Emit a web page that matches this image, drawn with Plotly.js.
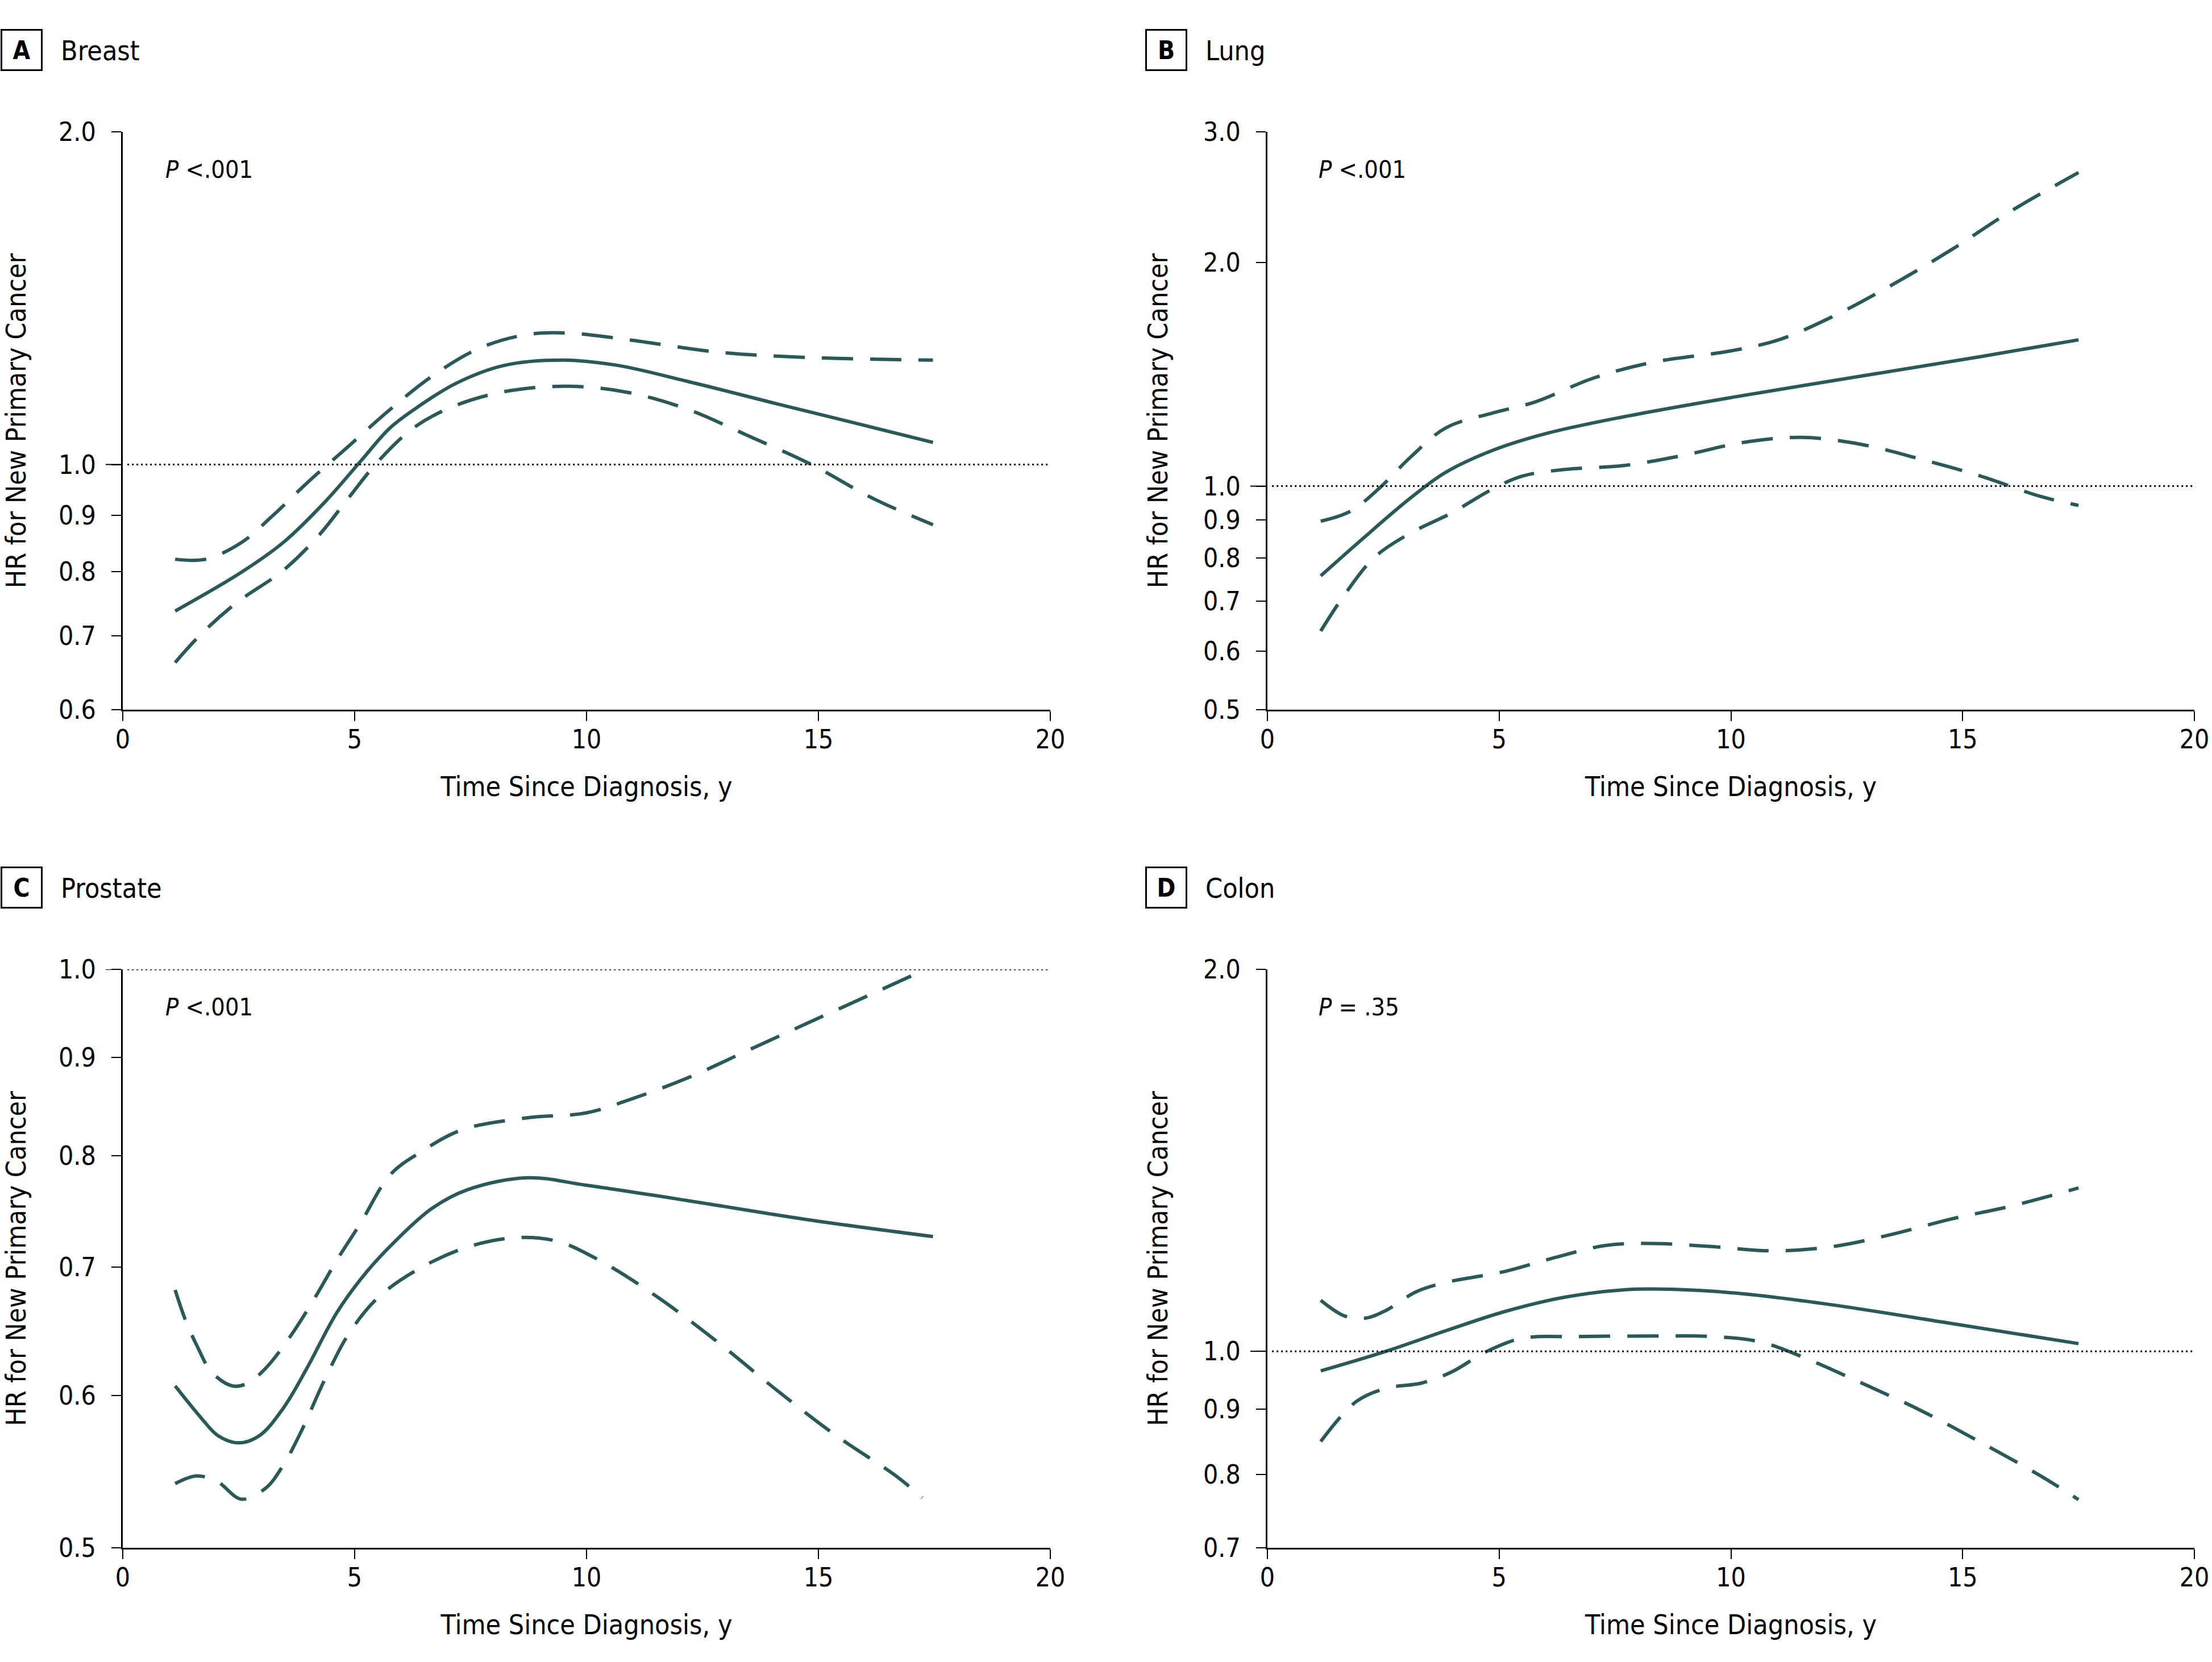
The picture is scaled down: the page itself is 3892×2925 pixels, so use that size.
<!DOCTYPE html>
<html><head><meta charset="utf-8">
<script src="https://cdn.plot.ly/plotly-3.0.1.min.js"></script>
<style>html,body{margin:0;padding:0;background:#fff}</style>
</head><body><div id="chart" style="width:3892px;height:2925px"></div>
<script>
// ---------- data ----------
const panelLetters = ['A', 'B', 'C', 'D'];
const panelTitles = ['Breast', 'Lung', 'Prostate', 'Colon'];
const pTexts = ['<i>P</i> &lt;.001', '<i>P</i> &lt;.001', '<i>P</i> &lt;.001', '<i>P</i> = .35'];
const xTickVals = [0, 5, 10, 15, 20];

const breastYTicks = [0.6, 0.7, 0.8, 0.9, 1.0, 2.0];
const lungYTicks = [0.5, 0.6, 0.7, 0.8, 0.9, 1.0, 2.0, 3.0];
const prostateYTicks = [0.5, 0.6, 0.7, 0.8, 0.9, 1.0];
const colonYTicks = [0.7, 0.8, 0.9, 1.0, 2.0];

// Breast
const breastHRx = [1.13,2.56,3.46,4.36,5.13,5.77,6.41,7.18,8.21,9.49,10.64,12.18,14.1,16.03,17.47];
const breastHRy = [0.737,0.799,0.850,0.925,1.007,1.080,1.131,1.184,1.229,1.243,1.230,1.189,1.135,1.084,1.047];
const breastUpx = [1.13,1.79,2.56,3.21,3.97,4.87,5.77,6.67,7.69,8.72,9.62,10.9,12.82,14.74,17.47];
const breastUpy = [0.821,0.821,0.850,0.897,0.962,1.039,1.122,1.202,1.274,1.311,1.315,1.297,1.264,1.250,1.243];
const breastLox = [1.13,1.67,2.44,3.46,4.23,4.87,5.51,6.28,7.18,8.33,9.62,10.9,12.18,13.46,14.87,16.15,17.47];
const breastLoy = [0.662,0.701,0.749,0.802,0.863,0.933,1.007,1.080,1.131,1.166,1.177,1.162,1.122,1.063,0.999,0.933,0.882];

// Lung
const lungHRx = [1.15,2.05,3.08,3.85,4.87,6.03,7.69,10.0,12.82,15.38,17.5];
const lungHRy = [0.757,0.849,0.963,1.044,1.118,1.178,1.240,1.316,1.407,1.494,1.574];
const lungUpx = [1.15,1.79,2.44,3.08,3.85,4.87,5.77,7.05,8.33,10.0,11.03,12.18,13.46,14.74,16.03,17.5];
const lungUpy = [0.897,0.925,0.997,1.093,1.198,1.255,1.298,1.399,1.469,1.521,1.574,1.690,1.864,2.078,2.344,2.644];
const lungLox = [1.15,1.67,2.31,3.08,3.97,4.87,5.51,6.41,7.69,8.97,10.26,11.54,12.82,14.1,15.38,16.67,17.5];
const lungLoy = [0.638,0.715,0.802,0.864,0.920,0.992,1.032,1.053,1.066,1.100,1.145,1.163,1.138,1.087,1.032,0.969,0.942];

// Prostate
const prostateHRx = [1.13,1.67,2.05,2.5,2.95,3.46,3.97,4.62,5.26,5.9,6.67,7.44,8.72,10.0,12.18,14.74,17.47];
const prostateHRy = [0.607,0.585,0.572,0.567,0.572,0.591,0.620,0.663,0.696,0.723,0.751,0.768,0.779,0.772,0.758,0.741,0.726];
const prostateUpx = [1.13,1.35,1.6,1.92,2.37,2.69,3.08,3.59,4.1,4.62,5.13,5.77,6.41,7.31,8.72,10.0,10.9,12.18,13.46,14.74,16.03,17.31];
const prostateUpy = [0.681,0.657,0.637,0.617,0.607,0.609,0.620,0.643,0.672,0.706,0.738,0.782,0.803,0.825,0.837,0.842,0.855,0.878,0.907,0.937,0.968,1.0];
const prostateLox = [1.13,1.6,2.05,2.56,3.08,3.46,3.85,4.36,4.87,5.51,6.41,7.44,8.46,9.36,10.26,11.54,12.82,14.1,15.38,16.67,17.24];
const prostateLoy = [0.540,0.545,0.541,0.530,0.537,0.552,0.575,0.612,0.646,0.675,0.699,0.717,0.725,0.722,0.706,0.675,0.640,0.604,0.572,0.545,0.531];

// Colon
const colonHRx = [1.15,2.56,3.85,5.13,6.41,7.69,8.72,10.26,12.18,14.74,17.5];
const colonHRy = [0.965,1.000,1.038,1.075,1.103,1.118,1.119,1.110,1.088,1.052,1.014];
const colonUpx = [1.15,1.67,2.12,2.56,3.21,3.85,5.13,6.15,7.31,8.33,9.62,10.9,12.18,13.46,14.74,16.03,17.5];
const colonUpy = [1.097,1.066,1.062,1.077,1.114,1.133,1.156,1.184,1.212,1.216,1.209,1.200,1.209,1.236,1.271,1.301,1.345];
const colonLox = [1.15,1.92,2.56,3.33,3.97,4.74,5.51,6.67,8.33,9.62,10.64,11.54,12.82,14.1,15.38,16.67,17.5];
const colonLoy = [0.849,0.913,0.935,0.944,0.963,1.000,1.024,1.027,1.028,1.027,1.017,0.990,0.944,0.898,0.848,0.798,0.764];

// ---------- layout / styling ----------
const W = 3892, H = 2925;
const FONT = '"DejaVu Sans Condensed","Liberation Sans Narrow",sans-serif';
const LINE = '#2a5a57';
const px = v => v / W;
const py = v => 1 - v / H;

const xDomA = [px(216), px(1848)], xDomB = [px(2230), px(3861)];
const yDomTop = [py(1249), py(232)], yDomBot = [py(2724), py(1706)];

const panels = [
  {hr:[breastHRx,breastHRy], up:[breastUpx,breastUpy], lo:[breastLox,breastLoy], ticks:breastYTicks, range:[0.6,2.0], xd:xDomA, yd:yDomTop},
  {hr:[lungHRx,lungHRy], up:[lungUpx,lungUpy], lo:[lungLox,lungLoy], ticks:lungYTicks, range:[0.5,3.0], xd:xDomB, yd:yDomTop},
  {hr:[prostateHRx,prostateHRy], up:[prostateUpx,prostateUpy], lo:[prostateLox,prostateLoy], ticks:prostateYTicks, range:[0.5,1.0], xd:xDomA, yd:yDomBot},
  {hr:[colonHRx,colonHRy], up:[colonUpx,colonUpy], lo:[colonLox,colonLoy], ticks:colonYTicks, range:[0.7,2.0], xd:xDomB, yd:yDomBot}
];

const traces = [];
const layout = {
  width: W, height: H,
  margin: {l:0, r:0, t:0, b:0},
  paper_bgcolor: '#fff', plot_bgcolor: '#fff',
  showlegend: false,
  font: {family: FONT, color: '#000', size: 46},
  shapes: [], annotations: []
};

panels.forEach((p, i) => {
  const n = i === 0 ? '' : String(i + 1);
  const xa = 'x' + n, ya = 'y' + n;
  const common = {xaxis: xa, yaxis: ya, mode: 'lines', hoverinfo: 'skip'};
  traces.push(Object.assign({x: p.hr[0], y: p.hr[1], line: {color: LINE, width: 6, shape: 'spline', smoothing: 1}}, common));
  traces.push(Object.assign({x: p.lo[0], y: p.lo[1], line: {color: LINE, width: 6, shape: 'spline', smoothing: 1, dash: '55px,30px'}}, common));
  traces.push(Object.assign({x: p.up[0], y: p.up[1], line: {color: LINE, width: 6, shape: 'spline', smoothing: 1, dash: '55px,30px'}}, common));

  layout['xaxis' + n] = {
    domain: p.xd, anchor: ya, range: [0, 20], tickvals: xTickVals, ticktext: xTickVals.map(String),
    showline: true, linecolor: '#000', linewidth: 3, ticks: 'outside', ticklen: 17, tickwidth: 2, tickcolor: '#000',
    showgrid: false, zeroline: false, automargin: false, fixedrange: true,
    tickfont: {size: 46, family: FONT}, ticklabelstandoff: -7,
    title: {text: 'Time Since Diagnosis, y', font: {size: 48, family: FONT}, standoff: 41}
  };
  layout['yaxis' + n] = {
    domain: p.yd, anchor: xa, type: 'log', range: [Math.log10(p.range[0]), Math.log10(p.range[1])],
    tickvals: p.ticks, ticktext: p.ticks.map(v => v.toFixed(1)),
    showline: true, linecolor: '#000', linewidth: 3, ticks: 'outside', ticklen: 17, tickwidth: 2, tickcolor: '#000',
    showgrid: false, zeroline: false, automargin: false, fixedrange: true,
    tickfont: {size: 46, family: FONT}, ticklabelstandoff: 18,
    title: {text: 'HR for New Primary Cancer', font: {size: 48, family: FONT}, standoff: 48}
  };

  // reference line at HR = 1.0
  layout.shapes.push({type: 'line', xref: xa, yref: ya, x0: 0.1, x1: 20, y0: 1, y1: 1,
    line: {color: '#000', width: 3, dash: '3px,5px'}});
  // longer tick at 1.0
  const axisPx = p.xd[0] * W;
  layout.shapes.push({type: 'line', xref: 'paper', yref: ya, x0: (axisPx - 30) / W, x1: axisPx / W, y0: 1, y1: 1,
    line: {color: '#000', width: 2}});

  // panel label box + title
  const left = i % 2 === 0 ? 1 : 2015;
  const top = i < 2 ? 51 : 1525;
  layout.annotations.push({xref: 'paper', yref: 'paper', x: px(left), y: py(top), xanchor: 'left', yanchor: 'top',
    text: '<b>' + panelLetters[i] + '</b>', showarrow: false, width: 68, height: 68, borderpad: 0,
    bordercolor: '#000', borderwidth: 3, align: 'center', valign: 'middle', font: {size: 44, family: FONT, color: '#000'}});
  layout.annotations.push({xref: 'paper', yref: 'paper', x: px(left + 104), y: py(top + 38), xanchor: 'left', yanchor: 'middle',
    text: panelTitles[i], showarrow: false, font: {size: 48, family: FONT, color: '#000'}});
  // P value
  const pLeft = axisPx + (i % 2 === 0 ? 73 : 88);
  const pMid = (i < 2 ? 232 : 1706) + 66;
  layout.annotations.push({xref: 'paper', yref: 'paper', x: px(pLeft), y: py(pMid), xanchor: 'left', yanchor: 'middle',
    text: pTexts[i], showarrow: false, font: {size: 43, family: FONT, color: '#000'}});
});

Plotly.newPlot('chart', traces, layout, {staticPlot: true, displayModeBar: false});
</script></body></html>
